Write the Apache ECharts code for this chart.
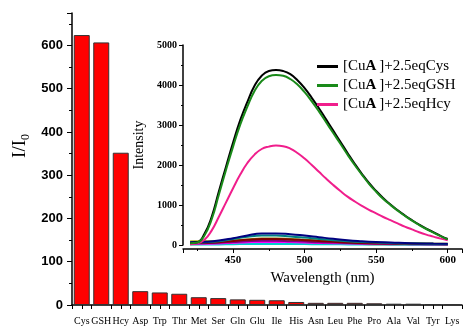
<!DOCTYPE html>
<html>
<head>
<meta charset="utf-8">
<script src="https://cdn.jsdelivr.net/npm/echarts@6/dist/echarts.min.js"></script>
<style>
  html, body { margin: 0; padding: 0; background: #fff; }
  #chart { width: 465px; height: 329px; }
</style>
</head>
<body>
<div id="chart"></div>
<script>
// selectivity bars
const aminoAcids = ['Cys', 'GSH', 'Hcy', 'Asp', 'Trp', 'Thr', 'Met', 'Ser', 'Gln', 'Glu',
  'Ile', 'His', 'Asn', 'Leu', 'Phe', 'Pro', 'Ala', 'Val', 'Tyr', 'Lys'];
const ratios = [624, 607, 352, 32, 29, 26, 18, 16, 13, 12, 11, 7, 5, 5, 5, 4, 3, 3, 2, 1];

// inset spectra
const wavelengths = [420, 425, 430, 435, 440, 445, 450, 455, 460, 465, 470, 475, 480, 485, 490,
  495, 500, 505, 510, 515, 520, 525, 530, 535, 540, 545, 550, 555, 560, 565, 570, 575, 580,
  585, 590, 595, 600];
const cysCurve = [50, 70, 280, 700, 1330, 1950, 2560, 3120, 3580, 3980, 4230, 4350, 4375, 4350,
  4270, 4120, 3920, 3680, 3420, 3140, 2860, 2580, 2300, 2030, 1780, 1550, 1350, 1170, 1010,
  870, 740, 620, 510, 410, 320, 230, 150];
const gshCurve = [45, 60, 240, 640, 1250, 1870, 2460, 3010, 3460, 3850, 4100, 4220, 4250, 4230,
  4150, 4010, 3820, 3590, 3340, 3070, 2800, 2530, 2260, 2000, 1760, 1530, 1330, 1150, 1000,
  860, 730, 610, 500, 400, 310, 220, 140];
const hcyCurve = [20, 40, 130, 360, 700, 1060, 1420, 1760, 2050, 2260, 2400, 2460, 2485, 2470,
  2410, 2300, 2160, 2000, 1830, 1660, 1500, 1350, 1210, 1090, 980, 880, 790, 700, 620, 540,
  460, 390, 320, 260, 210, 160, 120];

// the other amino acids, coarser sampling
const wavelengthsLow = [420, 430, 440, 450, 460, 470, 480, 490, 500, 510, 520, 530, 540, 550,
  560, 570, 580, 590, 600];
const lowCurves = [
  ['#cccc00', [85, 88, 92, 100, 115, 125, 125, 118, 105, 92, 80, 68, 58, 50, 44, 40, 36, 33, 30]],
  ['#808000', [80, 85, 90, 110, 140, 160, 160, 150, 130, 110, 90, 75, 60, 50, 45, 40, 35, 30, 25]],
  ['#808080', [35, 38, 48, 65, 85, 95, 95, 88, 76, 65, 55, 46, 38, 33, 29, 26, 23, 21, 19]],
  ['#0000ff', [25, 28, 35, 45, 58, 65, 65, 60, 52, 45, 38, 32, 28, 24, 21, 19, 17, 15, 14]],
  ['#ff0000', [20, 22, 28, 38, 48, 55, 55, 50, 44, 38, 32, 27, 23, 20, 18, 16, 14, 13, 12]],
  ['#00cccc', [10, 12, 15, 20, 25, 28, 28, 26, 23, 20, 17, 15, 13, 12, 11, 10, 9, 9, 8]],
  ['#ff00ff', [30, 32, 40, 55, 70, 78, 78, 72, 62, 52, 44, 38, 32, 28, 25, 22, 20, 18, 16]],
  ['#800080', [40, 45, 55, 75, 95, 105, 105, 95, 85, 70, 60, 50, 40, 35, 30, 25, 22, 20, 18]],
  ['#800000', [50, 55, 70, 100, 130, 150, 150, 140, 120, 100, 80, 65, 50, 40, 35, 30, 25, 22, 20]],
  ['#008080', [60, 70, 95, 150, 205, 235, 235, 215, 185, 150, 120, 95, 75, 60, 50, 40, 35, 30, 25]],
  ['#000080', [70, 80, 110, 170, 240, 285, 290, 270, 235, 195, 155, 120, 95, 75, 60, 50, 40, 35, 30]]
];

const serif = 'Liberation Serif';
const sans = 'Liberation Sans';

function pairs(xs, ys) {
  return xs.map((x, i) => [x, ys[i]]);
}

const lowSeries = lowCurves.map(function (c, i) {
  return {
    name: 'low' + i,
    type: 'line',
    xAxisIndex: 2,
    yAxisIndex: 1,
    showSymbol: false,
    smooth: true,
    lineStyle: { color: c[0], width: 2 },
    data: pairs(wavelengthsLow, c[1])
  };
});

function mainCurve(name, color, ys) {
  return {
    name: name,
    type: 'line',
    xAxisIndex: 2,
    yAxisIndex: 1,
    showSymbol: false,
    smooth: true,
    itemStyle: { color: color },
    lineStyle: { color: color, width: 2 },
    data: pairs(wavelengths, ys)
  };
}

const option = {
  animation: false,
  backgroundColor: '#fff',
  grid: [
    { left: 72, right: 3, top: 13, bottom: 24 },
    { left: 183, right: 2, top: 45, bottom: 84 }
  ],
  graphic: [{
    type: 'text',
    left: 11,
    top: 134,
    rotation: Math.PI / 2,
    style: {
      text: 'I/I{s|0}',
      font: '19px "Liberation Serif"',
      rich: { s: { fontSize: 12, fontFamily: serif, verticalAlign: 'bottom', padding: [10, 0, 0, 0] } },
      fill: '#000'
    }
  }],
  legend: {
    data: ['Cys', 'GSH', 'Hcy'],
    orient: 'vertical',
    left: 312,
    top: 54,
    itemWidth: 21,
    itemHeight: 3,
    itemGap: 4,
    icon: 'rect',
    formatter: function (name) {
      return '[Cu{b|A}\u2009]+2.5eq' + name;
    },
    textStyle: {
      fontFamily: serif, fontSize: 15, color: '#000', lineHeight: 15,
      rich: { b: { fontFamily: serif, fontSize: 15, fontWeight: 'bold', lineHeight: 15 } }
    }
  },
  xAxis: [
    {
      type: 'category',
      gridIndex: 0,
      data: aminoAcids,
      axisLine: { lineStyle: { color: '#000', width: 1.5 } },
      axisTick: { show: true, length: 4, lineStyle: { color: '#000' } },
      axisLabel: { interval: 0, margin: 11, color: '#000', fontFamily: serif, fontSize: 10 }
    },
    {
      type: 'category',
      gridIndex: 0,
      data: aminoAcids,
      position: 'bottom',
      axisLine: { show: false },
      axisTick: { show: true, alignWithLabel: true, length: 4, lineStyle: { color: '#000' } },
      axisLabel: { show: false }
    },
    {
      type: 'value',
      gridIndex: 1,
      min: 415,
      max: 610,
      splitNumber: 4,
      offset: 4,
      name: 'Wavelength (nm)',
      nameLocation: 'middle',
      nameGap: 19,
      nameTextStyle: { fontFamily: serif, fontSize: 15, color: '#000' },
      splitLine: { show: false },
      axisLine: { onZero: false, lineStyle: { color: '#000', width: 1.5 } },
      axisTick: { length: 4, lineStyle: { color: '#000' } },
      minorTick: { show: true, splitNumber: 2, length: 2, lineStyle: { color: '#000' } },
      axisLabel: {
        margin: 6,
        showMinLabel: false,
        formatter: function (v) { return v % 50 === 0 ? String(v) : ''; },
        color: '#000', fontFamily: serif, fontWeight: 'bold', fontSize: 11
      }
    }
  ],
  yAxis: [
    {
      type: 'value',
      gridIndex: 0,
      min: 0,
      max: 675,
      interval: 100,
      splitLine: { show: false },
      axisLine: { show: true, lineStyle: { color: '#000', width: 1.5 } },
      axisTick: { show: true, length: 5, lineStyle: { color: '#000' } },
      minorTick: { show: true, splitNumber: 2, length: 3, lineStyle: { color: '#000' } },
      axisLabel: {
        margin: 9,
        formatter: function (v) { return v % 100 === 0 ? String(v) : ''; },
        color: '#000', fontFamily: sans, fontWeight: 'bold', fontSize: 13
      }
    },
    {
      type: 'value',
      gridIndex: 1,
      min: 0,
      max: 5000,
      interval: 1000,
      name: 'Intensity',
      nameLocation: 'middle',
      nameGap: 36,
      nameTextStyle: { fontFamily: serif, fontSize: 14, color: '#000' },
      splitLine: { show: false },
      axisLine: { show: true, onZero: false, lineStyle: { color: '#000', width: 1.5 } },
      axisTick: { show: true, length: 4, lineStyle: { color: '#000' } },
      minorTick: { show: true, splitNumber: 2, length: 2, lineStyle: { color: '#000' } },
      axisLabel: {
        margin: 6,
        showMinLabel: true,
        formatter: function (v) { return String(v); },
        color: '#000', fontFamily: serif, fontWeight: 'bold', fontSize: 10
      }
    }
  ],
  series: [
    {
      name: 'ratio',
      type: 'bar',
      xAxisIndex: 0,
      yAxisIndex: 0,
      barCategoryGap: '18%',
      itemStyle: { color: '#ff0000', borderColor: '#333', borderWidth: 1 },
      data: ratios
    }
  ].concat(lowSeries, [
    mainCurve('Hcy', '#f01e8c', hcyCurve),
    mainCurve('Cys', '#000000', cysCurve),
    mainCurve('GSH', '#1a8a1a', gshCurve)
  ])
};

const myChart = echarts.init(document.getElementById('chart'));
myChart.setOption(option);
</script>
</body>
</html>
